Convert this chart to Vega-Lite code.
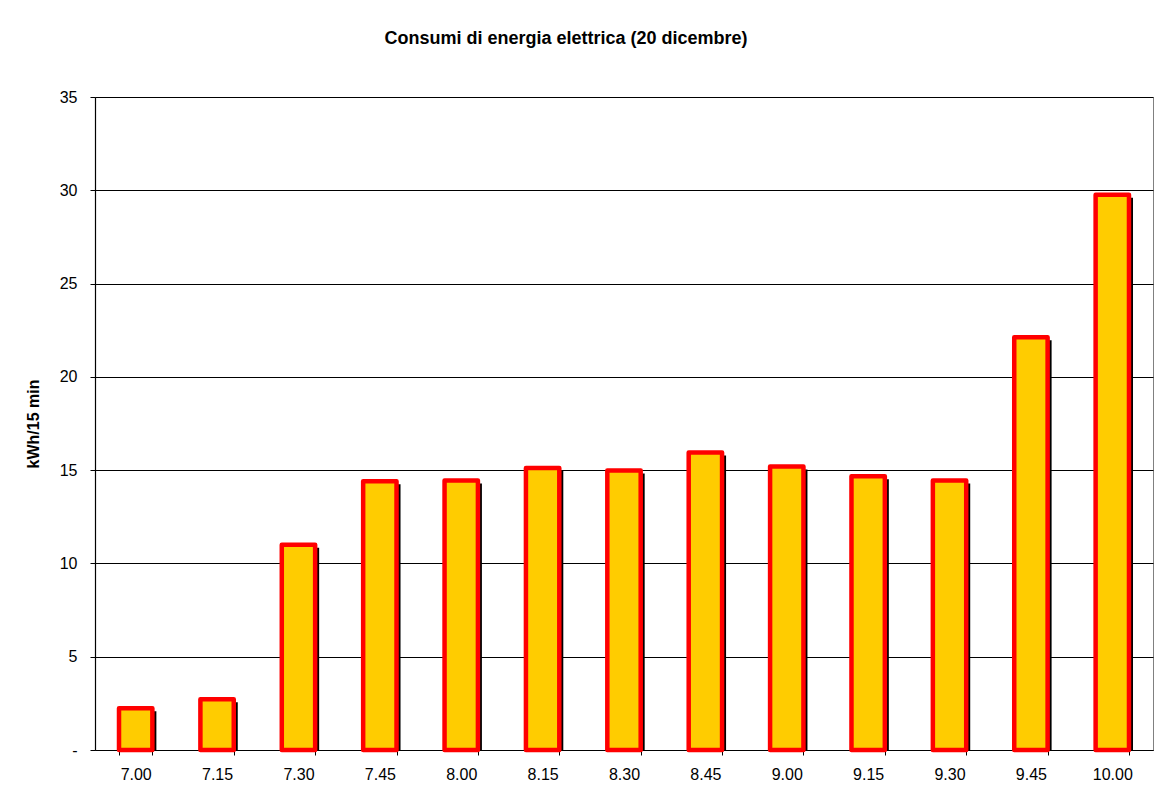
{
  "$schema": "https://vega.github.io/schema/vega-lite/v6.json",
  "width": 1058,
  "height": 653,
  "autosize": {"type": "none"},
  "padding": {"left": 95, "top": 97, "right": 13, "bottom": 51},
  "background": "white",
  "title": {
    "text": "Consumi di energia elettrica (20 dicembre)",
    "font": "Liberation Sans",
    "fontSize": 18,
    "fontWeight": "bold",
    "color": "#000000",
    "anchor": "middle",
    "dx": -58,
    "offset": 41
  },
  "config": {
    "view": {"stroke": "#808080", "strokeWidth": 1},
    "font": "Liberation Sans"
  },
  "data": {
    "values": [
      {"ora": "7.00", "kwh": 2.24},
      {"ora": "7.15", "kwh": 2.72},
      {"ora": "7.30", "kwh": 11.0},
      {"ora": "7.45", "kwh": 14.4},
      {"ora": "8.00", "kwh": 14.44},
      {"ora": "8.15", "kwh": 15.11},
      {"ora": "8.30", "kwh": 14.98},
      {"ora": "8.45", "kwh": 15.95},
      {"ora": "9.00", "kwh": 15.19},
      {"ora": "9.15", "kwh": 14.67},
      {"ora": "9.30", "kwh": 14.44},
      {"ora": "9.45", "kwh": 22.12},
      {"ora": "10.00", "kwh": 29.76}
    ]
  },
  "encoding": {
    "x": {
      "field": "ora",
      "type": "ordinal",
      "sort": null,
      "scale": {"paddingInner": 0.59, "paddingOuter": 0.295},
      "axis": {
        "title": null,
        "labelAngle": 0,
        "labelFont": "Liberation Sans",
        "labelFontSize": 16,
        "labelColor": "#000000",
        "labelPadding": 11,
        "tickBand": "extent",
        "tickSize": 5,
        "tickColor": "#000000",
        "domainColor": "#000000",
        "domainWidth": 1.2
      }
    },
    "y": {
      "field": "kwh",
      "type": "quantitative",
      "scale": {"domain": [0, 35], "nice": false},
      "axis": {
        "title": "kWh/15 min",
        "titleFont": "Liberation Sans",
        "titleFontSize": 16,
        "titleFontWeight": "bold",
        "titleColor": "#000000",
        "titlePadding": 18,
        "values": [0, 5, 10, 15, 20, 25, 30, 35],
        "labelExpr": "datum.value == 0 ? '-' : datum.label",
        "labelFont": "Liberation Sans",
        "labelFontSize": 16,
        "labelColor": "#000000",
        "labelPadding": 13,
        "tickSize": 5,
        "tickColor": "#000000",
        "domainColor": "#000000",
        "domainWidth": 1.2,
        "grid": true,
        "gridColor": "#000000",
        "gridWidth": 1
      }
    }
  },
  "layer": [
    {
      "mark": {"type": "bar", "color": "#000000", "xOffset": 4, "yOffset": 3, "clip": true}
    },
    {
      "mark": {"type": "bar", "color": "#FFCC00", "stroke": "#FF0000", "strokeWidth": 4.5, "strokeJoin": "round"}
    }
  ]
}
